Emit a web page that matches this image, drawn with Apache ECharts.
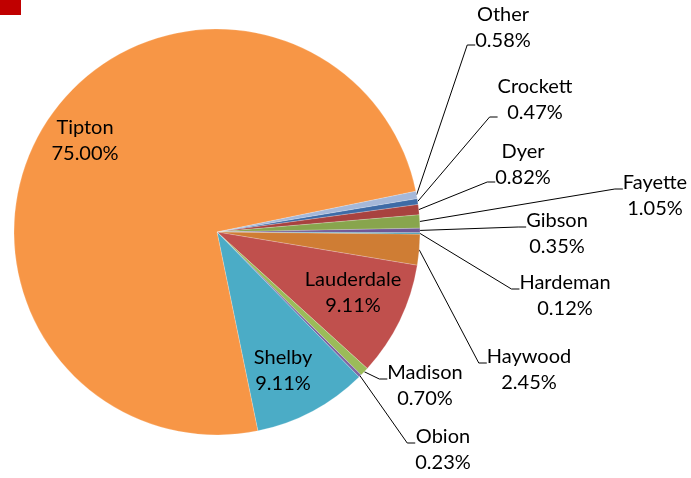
<!DOCTYPE html>
<html lang="en">
<head>
    <meta charset="UTF-8">
    <title>County share</title>
    <script type="text/javascript" src="https://cdn.jsdelivr.net/npm/echarts@6/dist/echarts.min.js"></script>
</head>
<body style="margin:0;">
<div id="main" style="width: 691px;height:478px;"></div>
<script type="text/javascript">
    // slices, clockwise in drawing order
    var counties = ['Crockett', 'Dyer', 'Fayette', 'Gibson', 'Hardeman', 'Haywood',
        'Lauderdale', 'Madison', 'Obion', 'Shelby', 'Tipton', 'Other'];
    var shares = [0.47, 0.82, 1.05, 0.35, 0.12, 2.45, 9.11, 0.70, 0.23, 9.11, 75.00, 0.58];
    var colors = ['#3E6BA6', '#A8423F', '#88A54D', '#6F5796', '#3A97AF', '#CF7D34',
        '#C0504D', '#9BBB59', '#8064A2', '#4BACC6', '#F79646', '#A5B8D9'];
    var insideNames = ['Lauderdale', 'Shelby', 'Tipton'];
    // labels whose leader line meets the percent line instead of the name line
    var upperNames = ['Other', 'Crockett', 'Dyer'];

    // label spots: text centre x, centre y of the first (name) line
    var labelSpots = {
        'Other': [503, 15],
        'Crockett': [535, 87],
        'Dyer': [523, 152],
        'Fayette': [655, 183],
        'Gibson': [557, 221],
        'Hardeman': [565, 283],
        'Haywood': [529, 357],
        'Madison': [425, 373],
        'Obion': [443, 437],
        'Tipton': [85, 128],
        'Lauderdale': [353, 280],
        'Shelby': [283, 358]
    };

    var LINE_H = 26;
    var UPPER_PAD = 34;  // extra box below: leader meets the percent line
    var LOWER_PAD = 14;  // extra box above: leader meets the name line
    var RIGHT_PAD = 120; // keeps the leader on the left side of the label box

    var pieData = counties.map(function (name, i) {
        var item = {name: name, value: shares[i], itemStyle: {color: colors[i]}};
        if (insideNames.indexOf(name) >= 0) {
            item.label = {position: 'inside'};
            item.labelLine = {show: false};
        } else if (upperNames.indexOf(name) >= 0) {
            item.label = {padding: [0, RIGHT_PAD, UPPER_PAD, 0], backgroundColor: 'rgba(255,255,255,0)'};
        } else {
            item.label = {padding: [LOWER_PAD, 0, 0, 0], backgroundColor: 'rgba(255,255,255,0)'};
        }
        return item;
    });

    var option = {
        animation: false,
        textStyle: {fontFamily: 'Lato'},
        graphic: [{
            type: 'rect',
            shape: {x: 0, y: 0, width: 21, height: 15},
            style: {fill: '#C00000'}
        }],
        series: [{
            type: 'pie',
            center: [217, 232],
            radius: 203,
            startAngle: 9.5,
            clockwise: true,
            avoidLabelOverlap: false,
            data: pieData,
            itemStyle: {borderColor: 'rgba(255,255,255,0.4)', borderWidth: 0.5},
            label: {
                show: true,
                color: '#000',
                fontFamily: 'Lato',
                fontSize: 20,
                lineHeight: LINE_H,
                formatter: function (p) {
                    return p.name + '\n' + p.value.toFixed(2) + '%';
                }
            },
            labelLine: {
                show: true,
                length: 10,
                length2: 8,
                lineStyle: {color: '#000', width: 1}
            },
            labelLayout: function (params) {
                var name = params.text.split('\n')[0];
                var spot = labelSpots[name];
                if (!spot) {
                    return {};
                }
                var x = spot[0];
                var top = spot[1] - LINE_H / 2;
                if (upperNames.indexOf(name) >= 0) {
                    x += RIGHT_PAD / 2;
                } else if (insideNames.indexOf(name) < 0) {
                    top -= LOWER_PAD;
                }
                return {x: x, y: top, align: 'center', verticalAlign: 'top'};
            }
        }]
    };

    var myChart = echarts.init(document.getElementById('main'));
    myChart.setOption(option);
</script>

</body>
</html>
